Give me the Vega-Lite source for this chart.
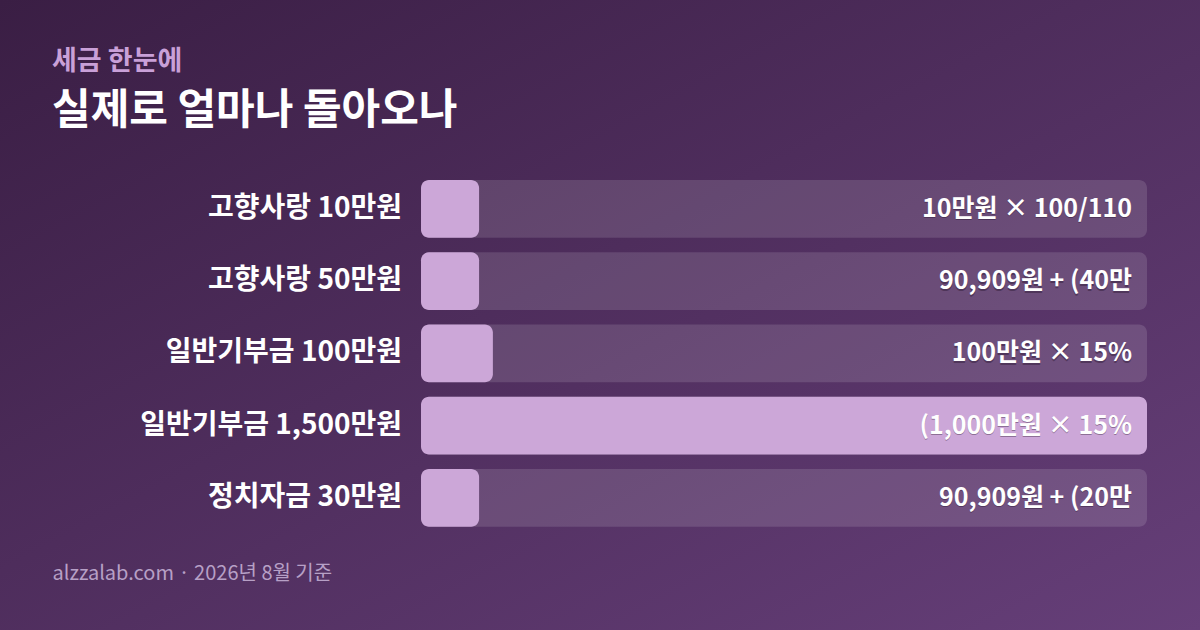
{
  "$schema": "https://vega.github.io/schema/vega-lite/v6.json",
  "width": 1200,
  "height": 630,
  "autosize": {"type": "fit", "contains": "padding"},
  "padding": 0,
  "background": "#4c2958",
  "view": {
    "stroke": null,
    "fill": {
      "gradient": "linear",
      "x1": 0, "y1": 0, "x2": 1, "y2": 1,
      "stops": [
        {"offset": 0, "color": "#3a1e44"},
        {"offset": 1, "color": "#663f79"}
      ]
    }
  },
  "title": {
    "text": "세금 한눈에",
    "subtitle": "실제로 얼마나 돌아오나",
    "anchor": "start",
    "frame": "bounds",
    "dx": 52,
    "offset": -133,
    "font": "Noto Sans CJK KR",
    "fontSize": 27,
    "fontWeight": "bold",
    "color": "#c9a0d8",
    "subtitleFont": "Noto Sans CJK KR",
    "subtitleFontSize": 42,
    "subtitleFontWeight": "bold",
    "subtitleColor": "#ffffff",
    "subtitlePadding": 15
  },
  "data": {
    "values": [
      {"item": "고향사랑 10만원", "pct": 8, "formula": "10만원 × 100/110"},
      {"item": "고향사랑 50만원", "pct": 8, "formula": "90,909원 + (40만"},
      {"item": "일반기부금 100만원", "pct": 9.9, "formula": "100만원 × 15%"},
      {"item": "일반기부금 1,500만원", "pct": 100, "formula": "(1,000만원 × 15%"},
      {"item": "정치자금 30만원", "pct": 8, "formula": "90,909원 + (20만"}
    ]
  },
  "encoding": {
    "y": {
      "field": "item",
      "type": "nominal",
      "sort": null,
      "axis": null,
      "scale": {"range": [180, 526.8], "paddingInner": 0.2, "paddingOuter": 0}
    }
  },
  "layer": [
    {
      "mark": {"type": "bar", "cornerRadius": 8, "fill": "#ffffff", "fillOpacity": 0.13},
      "encoding": {
        "x": {
          "datum": 100,
          "type": "quantitative",
          "scale": {"domain": [-57.99, 107.3], "nice": false, "zero": false},
          "axis": {
            "orient": "bottom",
            "domain": false,
            "ticks": false,
            "labels": false,
            "grid": false,
            "minExtent": 0,
            "maxExtent": 0,
            "title": "alzzalab.com · 2026년 8월 기준",
            "titleX": 52,
            "titleY": -51,
            "titleAlign": "left",
            "titleAnchor": "start",
            "titleBaseline": "alphabetic",
            "titleFont": "Noto Sans CJK KR",
            "titleFontSize": 20,
            "titleFontWeight": "normal",
            "titleColor": "#b7a0c6"
          }
        },
        "x2": {"datum": 0}
      }
    },
    {
      "mark": {"type": "bar", "cornerRadius": 8, "fill": "#cca7d8"},
      "encoding": {
        "x": {"field": "pct", "type": "quantitative"},
        "x2": {"datum": 0}
      }
    },
    {
      "mark": {"type": "text", "align": "right", "baseline": "middle", "dx": -15, "dy": 1.5, "font": "Noto Sans CJK KR", "fontSize": 25, "fontWeight": "bold", "fill": "#1a0a20", "opacity": 0.35},
      "encoding": {
        "x": {"datum": 100, "type": "quantitative"},
        "text": {"field": "formula"}
      }
    },
    {
      "mark": {"type": "text", "align": "right", "baseline": "middle", "dx": -15, "font": "Noto Sans CJK KR", "fontSize": 25, "fontWeight": "bold", "fill": "#ffffff"},
      "encoding": {
        "x": {"datum": 100, "type": "quantitative"},
        "text": {"field": "formula"}
      }
    },
    {
      "mark": {"type": "text", "align": "right", "baseline": "middle", "dx": -19, "font": "Noto Sans CJK KR", "fontSize": 28, "fontWeight": "bold", "fill": "#ffffff"},
      "encoding": {
        "x": {"datum": 0, "type": "quantitative"},
        "text": {"field": "item"}
      }
    }
  ]
}
